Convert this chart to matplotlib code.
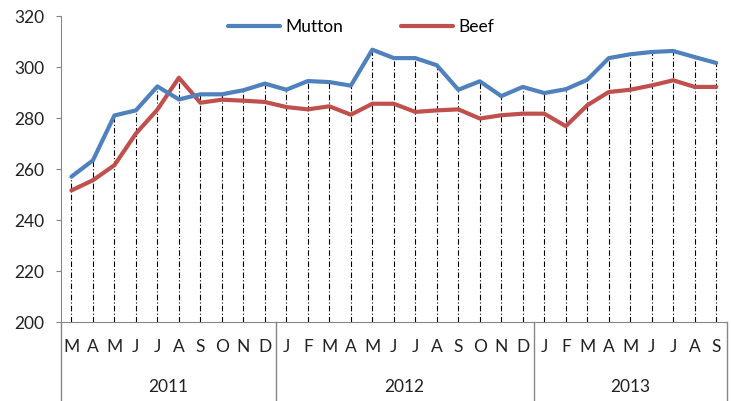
import matplotlib.pyplot as plt
from matplotlib.lines import Line2D

plt.rcParams['font.family'] = ['Lato', 'DejaVu Sans']

months = ["M", "A", "M", "J", "J", "A", "S", "O", "N", "D",
          "J", "F", "M", "A", "M", "J", "J", "A", "S", "O", "N", "D",
          "J", "F", "M", "A", "M", "J", "J", "A", "S"]
years = ["2011", "2012", "2013"]
months_per_year = [10, 12, 9]

mutton = [257, 263.4, 281, 283, 292.4, 287.3, 289.3, 289.3, 290.9, 293.5,
          291.1, 294.5, 294.1, 292.7, 306.8, 303.5, 303.5, 300.7, 291.1, 294.4, 288.6, 292.2,
          289.8, 291.3, 295, 303.5, 305, 305.9, 306.3, 303.9, 301.6]
beef = [251.6, 255.6, 261.5, 273.9, 283.3, 295.8, 286, 287.2, 286.8, 286.3,
        284.3, 283.4, 284.6, 281.3, 285.6, 285.6, 282.4, 283, 283.4, 279.8, 281.1, 281.7,
        281.7, 276.8, 285, 290.2, 291.1, 292.8, 294.8, 292.2, 292.2]

blue = "#4F81BD"
red = "#C0504D"
grey = "#868686"

fig = plt.figure(figsize=(7.31, 4.01), dpi=100)
ax = fig.add_axes([0.083, 0.197, 0.9115, 0.763])

x = list(range(len(months)))
tops = [max(a, b) for a, b in zip(mutton, beef)]

# drop lines
ax.vlines(x, 200, tops, colors="black", linewidth=0.8,
          linestyles=(0, (5, 2, 1, 2)), zorder=1)

ax.plot(x, mutton, color=blue, lw=3, label="Mutton", zorder=3, solid_capstyle="round")
ax.plot(x, beef, color=red, lw=3, label="Beef", zorder=2, solid_capstyle="round")

ax.set_xlim(-0.5, len(months) - 0.5)
ax.set_ylim(200, 320)
ax.set_yticks(range(200, 321, 20))
ax.tick_params(axis="y", length=3.6, color=grey, labelsize=12.5, labelcolor="#222222", pad=8)

ax.set_xticks(x)
ax.set_xticklabels(months, fontsize=12.5, color="#222222")
ax.tick_params(axis="x", length=0, pad=12)

for s in ["top", "right"]:
    ax.spines[s].set_visible(False)
ax.spines["left"].set_color(grey)
ax.spines["bottom"].set_color(grey)

# year row and separators
trans = ax.get_xaxis_transform()
start = 0
bounds = [-0.5]
for yr, n in zip(years, months_per_year):
    ax.text(start + (n - 1) / 2, -0.212, yr, transform=trans, ha="center", va="center",
            fontsize=12.5, color="#222222")
    start += n
    bounds.append(start - 0.5)
for b in bounds:
    ax.add_line(Line2D([b, b], [0, -0.26], transform=trans, color=grey, lw=1, clip_on=False))

ax.legend(loc="center", bbox_to_anchor=(0.494, 0.933), bbox_transform=fig.transFigure,
          ncol=2, frameon=False, fontsize=12.5, handlelength=3.0, columnspacing=3.3,
          handletextpad=0.3)

fig.savefig("out.png", dpi=100)
